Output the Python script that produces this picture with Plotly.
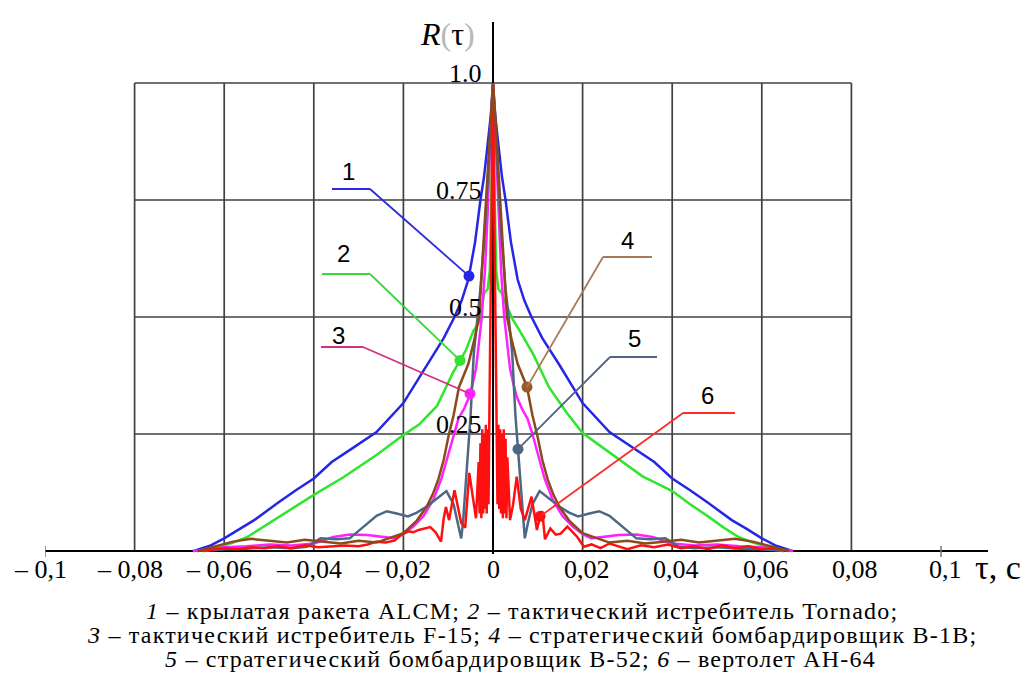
import numpy as np
import plotly.graph_objects as go

# ---------------- data ----------------
x_ticks = [-0.1, -0.08, -0.06, -0.04, -0.02, 0, 0.02, 0.04, 0.06, 0.08, 0.1]
x_tick_text = ["– 0,1", "– 0,08", "– 0,06", "– 0,04", "– 0,02", "0",
               "0,02", "0,04", "0,06", "0,08", "0,1"]
y_ticks = [0.25, 0.5, 0.75, 1.0]
y_tick_text = ["0.25", "0.5", "0.75", "1.0"]

# 1 - ALCM (blue), symmetric
tau_1 = [0, 0.0005, 0.0013, 0.002, 0.0028, 0.004, 0.0055, 0.007, 0.0086, 0.011, 0.0148,
         0.02, 0.026, 0.031, 0.036, 0.04, 0.044, 0.048, 0.0533, 0.057, 0.06, 0.063, 0.0652, 0.0668]
r_1 = [1.0, 0.93, 0.86, 0.8, 0.75, 0.66, 0.58, 0.535, 0.5, 0.455, 0.398,
       0.316, 0.254, 0.222, 0.19, 0.155, 0.13, 0.103, 0.066, 0.045, 0.027, 0.012, 0.005, 0.0]

# 2 - Tornado (green), right and left halves
tau_2 = [0, 0.0003, 0.0007, 0.0012, 0.002, 0.003, 0.0044, 0.006, 0.009, 0.0125, 0.0165,
         0.02, 0.026, 0.0333, 0.04, 0.044, 0.048, 0.0515, 0.0548, 0.058, 0.061, 0.0644]
r_2_right = [1.0, 0.8, 0.6, 0.56, 0.55, 0.525, 0.495, 0.47, 0.42, 0.35, 0.295,
             0.252, 0.211, 0.16, 0.128, 0.1, 0.074, 0.05, 0.03, 0.018, 0.01, 0.0]
r_2_left = [1.0, 0.8, 0.6, 0.56, 0.55, 0.49, 0.47, 0.43, 0.38, 0.31, 0.27,
            0.248, 0.205, 0.158, 0.12, 0.095, 0.072, 0.05, 0.03, 0.018, 0.009, 0.0]

# 3 - F-15 (magenta), symmetric
tau_3 = [0, 0.0006, 0.0012, 0.0018, 0.0025, 0.0032, 0.0038, 0.0046, 0.0053, 0.0064, 0.0077,
         0.0088, 0.0099, 0.0115, 0.0133, 0.0155, 0.0178, 0.02, 0.022, 0.025, 0.028, 0.032,
         0.0356, 0.04, 0.045, 0.05, 0.055, 0.06, 0.064, 0.067]
r_3 = [1.0, 0.88, 0.72, 0.6, 0.5, 0.44, 0.39, 0.355, 0.33, 0.305, 0.283,
       0.25, 0.211, 0.155, 0.11, 0.075, 0.052, 0.036, 0.027, 0.03, 0.034, 0.035,
       0.030, 0.016, 0.012, 0.014, 0.01, 0.008, 0.004, 0.0]

# 4 - B-1B (brown), symmetric
tau_4 = [0, 0.0007, 0.0015, 0.0022, 0.0031, 0.0042, 0.0055, 0.0076, 0.0088, 0.0099, 0.011,
         0.0122, 0.0135, 0.0148, 0.017, 0.02, 0.023, 0.026, 0.03, 0.034, 0.038, 0.042,
         0.046, 0.05, 0.054, 0.058, 0.062, 0.066]
r_4 = [1.0, 0.9, 0.77, 0.65, 0.5, 0.45, 0.40, 0.35, 0.29, 0.247, 0.195,
       0.153, 0.12, 0.095, 0.065, 0.038, 0.028, 0.018, 0.022, 0.016, 0.02, 0.024,
       0.018, 0.022, 0.026, 0.02, 0.01, 0.0]

# 5 - B-52 (slate), symmetric
tau_5 = [0, 0.0005, 0.0012, 0.002, 0.0028, 0.0035, 0.0043, 0.005, 0.0056, 0.0062, 0.0067,
         0.0071, 0.0078, 0.0088, 0.0104, 0.0125, 0.0148, 0.017, 0.019, 0.0215, 0.0237,
         0.026, 0.028, 0.030, 0.032, 0.035, 0.0385, 0.0415, 0.045, 0.05, 0.055, 0.06, 0.065]
r_5 = [1.0, 0.9, 0.78, 0.66, 0.56, 0.5, 0.42, 0.29, 0.215, 0.13, 0.06,
       0.027, 0.06, 0.1, 0.128, 0.112, 0.095, 0.082, 0.074, 0.08, 0.085,
       0.075, 0.059, 0.042, 0.027, 0.025, 0.027, 0.009, 0.006, 0.008, 0.005, 0.004, 0.0]

# 6 - AH-64 (red), right and left halves
tau_6 = [0, 0.0004, 0.0008, 0.001, 0.0012, 0.0014, 0.0016, 0.0018, 0.002, 0.0022, 0.0024,
         0.0026, 0.0028, 0.003, 0.0032, 0.0038, 0.0045, 0.0053,
         0.0062, 0.0071, 0.0086, 0.0098, 0.0105, 0.011, 0.0116, 0.0128, 0.014, 0.0151,
         0.0166, 0.0178, 0.0188, 0.0203, 0.022, 0.024, 0.026, 0.028, 0.03, 0.033, 0.036,
         0.039, 0.042, 0.045, 0.048, 0.051, 0.054, 0.057, 0.06, 0.063, 0.066]
r_6_right = [1.0, 0.62, 0.3, 0.1, 0.27, 0.09, 0.26, 0.08, 0.25, 0.07, 0.26,
             0.08, 0.24, 0.07, 0.2, 0.066, 0.1, 0.159,
             0.09, 0.066, 0.116, 0.045, 0.074, 0.085, 0.025, 0.048, 0.035, 0.037,
             0.052, 0.04, 0.03, 0.009, 0.014, 0.006, 0.016, 0.01, 0.004, 0.012, 0.008,
             0.014, 0.006, 0.01, 0.004, 0.012, 0.006, 0.01, 0.004, 0.006, 0.0]
r_6_left = [1.0, 0.62, 0.3, 0.1, 0.26, 0.08, 0.27, 0.09, 0.25, 0.08, 0.26,
            0.07, 0.23, 0.08, 0.19, 0.07, 0.12, 0.167,
            0.05, 0.06, 0.13, 0.066, 0.094, 0.07, 0.02, 0.04, 0.051, 0.048,
            0.045, 0.04, 0.042, 0.036, 0.022, 0.018, 0.02, 0.014, 0.01, 0.012, 0.01,
            0.008, 0.012, 0.006, 0.01, 0.006, 0.008, 0.004, 0.006, 0.003, 0.0]

curve_names = ["1", "2", "3", "4", "5", "6"]
curve_colors = ["#2626e6", "#2ee62e", "#ff22ff", "#8a4a1c", "#4d6784", "#ff1010"]
leader_colors = ["#2a2ae0", "#3ad83a", "#d4307e", "#a8795a", "#4f6684", "#ff2a2a"]
dot_tau = [-0.00536, -0.00737, -0.00513, 0.00759, 0.00558, 0.0105]

caption = [
    "<i>1</i> – крылатая ракета ALCM; <i>2</i> – тактический истребитель Tornado;",
    "<i>3</i> – тактический истребитель F-15; <i>4</i> – стратегический бомбардировщик B-1B;",
    "<i>5</i> – стратегический бомбардировщик B-52; <i>6</i> – вертолет AH-64",
]

# ---------------- geometry (pixels) ----------------
W, H = 1028, 688
X0, XS = 493.0, 4480.0      # pixel of tau=0, px per unit
Y0, YS = 551.0, 468.0       # pixel of R=0, px per unit
PL, PR, PT, PB = 45, 988, 22, 554
XMIN, XMAX = (PL - X0) / XS, (PR - X0) / XS
YMIN, YMAX = (Y0 - PB) / YS, (Y0 - PT) / YS


def dx(px):
    return (px - X0) / XS


def dy(py):
    return (Y0 - py) / YS


def paper_x(px):
    return (px - PL) / (PR - PL)


def paper_y(py):
    return (PB - py) / (PB - PT)


def full(tau, right, left=None):
    if left is None:
        left = right
    t = np.array(tau, dtype=float)
    x = np.concatenate([-t[::-1], t[1:]])
    y = np.concatenate([np.array(left, dtype=float)[::-1], np.array(right, dtype=float)[1:]])
    return x, y


curves = [
    full(tau_1, r_1),
    full(tau_2, r_2_right, r_2_left),
    full(tau_3, r_3),
    full(tau_4, r_4),
    full(tau_5, r_5),
    full(tau_6, r_6_right, r_6_left),
]

fig = go.Figure()
draw_order = [1, 0, 2, 4, 5, 3]
for i in draw_order:
    x, y = curves[i]
    fig.add_trace(go.Scatter(x=x, y=y, mode="lines", name=curve_names[i],
                             line=dict(color=curve_colors[i], width=2.5),
                             hoverinfo="skip", showlegend=False))

shapes = []
# grid (bounded box)
for t in x_ticks:
    if 0 < abs(t) < 0.099:
        shapes.append(dict(type="line", xref="x", yref="y", x0=t, x1=t, y0=0, y1=max(y_ticks),
                           line=dict(color="#404040", width=1.7), layer="below"))
for v in y_ticks:
    shapes.append(dict(type="line", xref="x", yref="y", x0=-0.08, x1=0.08, y0=v, y1=v,
                       line=dict(color="#404040", width=1.7), layer="below"))
# small end ticks at +-0.1
for t in (x_ticks[0], x_ticks[-1]):
    shapes.append(dict(type="line", xref="x", yref="paper", x0=t, x1=t,
                       y0=paper_y(546), y1=paper_y(557),
                       line=dict(color="#777777", width=1.5)))

# leader lines: (label center px, horizontal segment px, joint x px)
leaders = [
    ((348, 172), (332, 370, 189), 370),
    ((343, 253), (322, 370, 274), 370),
    ((338, 335), (321, 363, 347), 363),
    ((627, 240), (603, 652, 257), 603),
    ((634, 338), (610, 657, 357), 610),
    ((707, 395), (683, 735, 413), 683),
]
annotations = []
for i, (lab, (hx0, hx1, hy), jx) in enumerate(leaders):
    cx, cy = curves[i]
    dt = dot_tau[i]
    dv = float(np.interp(dt, cx, cy))
    shapes.append(dict(type="line", xref="x", yref="y", x0=dx(hx0), x1=dx(hx1), y0=dy(hy), y1=dy(hy),
                       line=dict(color=leader_colors[i], width=1.8)))
    shapes.append(dict(type="line", xref="x", yref="y", x0=dx(jx), x1=dt, y0=dy(hy), y1=dv,
                       line=dict(color=leader_colors[i], width=1.8)))
    fig.add_trace(go.Scatter(x=[dt], y=[dv], mode="markers",
                             marker=dict(color=curve_colors[i] if i != 3 else "#9a5a2c", size=11),
                             hoverinfo="skip", showlegend=False))
    annotations.append(dict(xref="paper", yref="paper", x=paper_x(lab[0]), y=paper_y(lab[1]),
                            text=curve_names[i], showarrow=False, xanchor="center", yanchor="middle",
                            font=dict(family="Liberation Sans", size=24, color="black")))

# x tick labels
for t, s in zip(x_ticks, x_tick_text):
    shift = -5 if t < 0 else (4 if t > 0 else 0)
    annotations.append(dict(xref="x", yref="paper", x=t, y=paper_y(569), text=s, showarrow=False,
                            xanchor="center", yanchor="middle", xshift=shift,
                            font=dict(family="Liberation Serif", size=26, color="black")))
# y tick labels
for v, s in zip(y_ticks, y_tick_text):
    annotations.append(dict(xref="x", yref="y", x=0, y=v, text=s, showarrow=False,
                            xanchor="right", yanchor="middle", xshift=-9, yshift=10,
                            font=dict(family="Liberation Serif", size=26, color="black")))
# axis titles
annotations.append(dict(xref="paper", yref="paper", x=paper_x(447), y=paper_y(34),
                        text="<i>R</i><span style='color:#b8b8b8'>(</span>τ<span style='color:#b8b8b8'>)</span>",
                        showarrow=False, xanchor="center", yanchor="middle",
                        font=dict(family="Liberation Serif", size=32, color="black")))
annotations.append(dict(xref="paper", yref="paper", x=paper_x(998), y=paper_y(567),
                        text="τ, с", showarrow=False, xanchor="center", yanchor="middle",
                        font=dict(family="Liberation Serif", size=34, color="black")))
# caption
cap_pos = [(522, 611), (532, 635), (520, 659)]
for s, (px, py) in zip(caption, cap_pos):
    annotations.append(dict(xref="paper", yref="paper", x=paper_x(px), y=paper_y(py),
                            text="<span style='letter-spacing:1.2px'>" + s + "</span>",
                            showarrow=False, xanchor="center", yanchor="middle",
                            font=dict(family="Liberation Serif", size=24, color="black")))

fig.update_layout(
    width=W, height=H,
    margin=dict(l=PL, r=W - PR, t=PT, b=H - PB, pad=0),
    paper_bgcolor="white", plot_bgcolor="white",
    xaxis=dict(range=[XMIN, XMAX], showgrid=False, showticklabels=False, ticks="",
               zeroline=True, zerolinecolor="black", zerolinewidth=2, showline=False, fixedrange=True),
    yaxis=dict(range=[YMIN, YMAX], showgrid=False, showticklabels=False, ticks="",
               zeroline=True, zerolinecolor="black", zerolinewidth=2, showline=False, fixedrange=True),
    shapes=shapes, annotations=annotations, showlegend=False,
)

fig.write_html("out.html")
